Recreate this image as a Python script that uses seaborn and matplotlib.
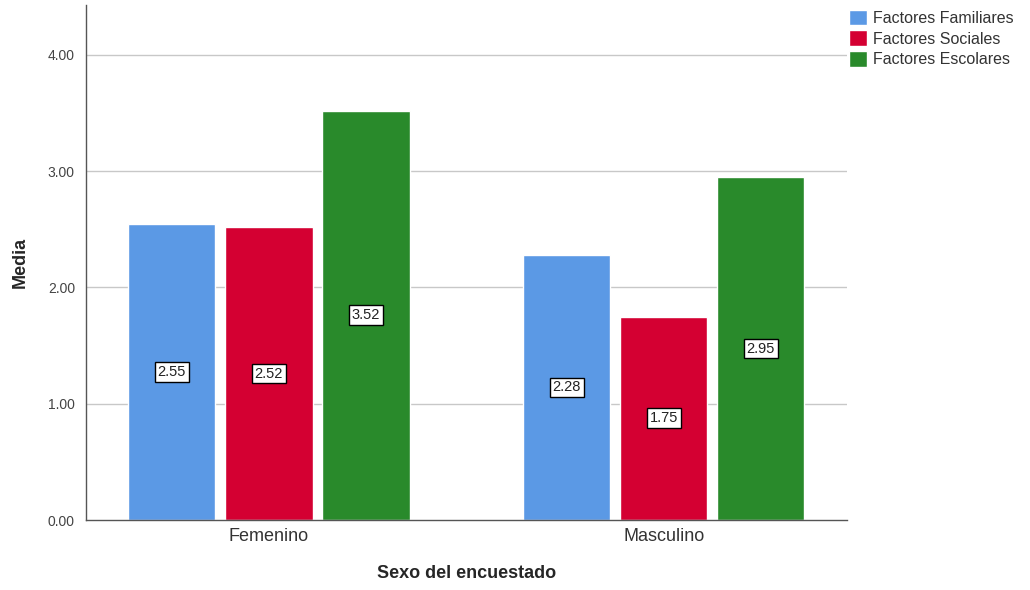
import pandas as pd
import matplotlib.pyplot as plt
import seaborn as sns

# Data
sexo = ["Femenino", "Femenino", "Femenino", "Masculino", "Masculino", "Masculino"]
factor = ["Factores Familiares", "Factores Sociales", "Factores Escolares"] * 2
media = [2.55, 2.52, 3.52, 2.28, 1.75, 2.95]

colores = ["#5B99E5", "#D40032", "#298A2B"]

df = pd.DataFrame({"Sexo": sexo, "Factor": factor, "Media": media})

sns.set_style("white")
plt.rcParams['font.family'] = ['Liberation Sans', 'DejaVu Sans']

fig = plt.figure(figsize=(10.3, 5.9), dpi=100)
ax = fig.add_axes([0.0835, 0.1186, 0.7385, 0.873])

ax.set_axisbelow(True)
for yv in [1, 2, 3, 4]:
    ax.axhline(yv, color="#C8C8C8", lw=1, zorder=0)

sns.barplot(data=df, x="Sexo", y="Media", hue="Factor", palette=colores,
            width=0.737, gap=0.1, saturation=1, errorbar=None, ax=ax, zorder=2)

# value labels in the middle of each bar
for cont in ax.containers:
    for rect in cont:
        h = rect.get_height()
        ax.text(rect.get_x() + rect.get_width() / 2, h / 2, f"{h:.2f}",
                ha="center", va="center", fontsize=10.5, color="#222222", zorder=3,
                bbox=dict(boxstyle="square,pad=0.2", fc="white", ec="black", lw=1))

ax.set_xlim(-0.463, 1.463)
ax.set_ylim(0, 4.43)
ax.set_yticks([0, 1, 2, 3, 4])
ax.set_yticklabels([f"{v:.2f}" for v in [0, 1, 2, 3, 4]], fontsize=10, color="#444444")
ax.tick_params(axis="x", labelsize=13, colors="#333333", length=0, pad=6)
ax.tick_params(axis="y", length=0, pad=8)

ax.set_ylabel("Media", fontsize=13, fontweight="bold", labelpad=14)
ax.set_xlabel("Sexo del encuestado", fontsize=13, fontweight="bold", labelpad=14)

for s in ["top", "right"]:
    ax.spines[s].set_visible(False)
for s in ["left", "bottom"]:
    ax.spines[s].set_color("#555555")
    ax.spines[s].set_linewidth(1)

leg = ax.legend(loc="upper left", bbox_to_anchor=(0.815, 1.0), bbox_transform=fig.transFigure,
                frameon=False, fontsize=11.5, handlelength=1.1, handleheight=1.1,
                handletextpad=0.4, labelspacing=0.3, borderaxespad=0.2)
for t in leg.get_texts():
    t.set_color("#333333")

fig.savefig("out.png", dpi=100)
